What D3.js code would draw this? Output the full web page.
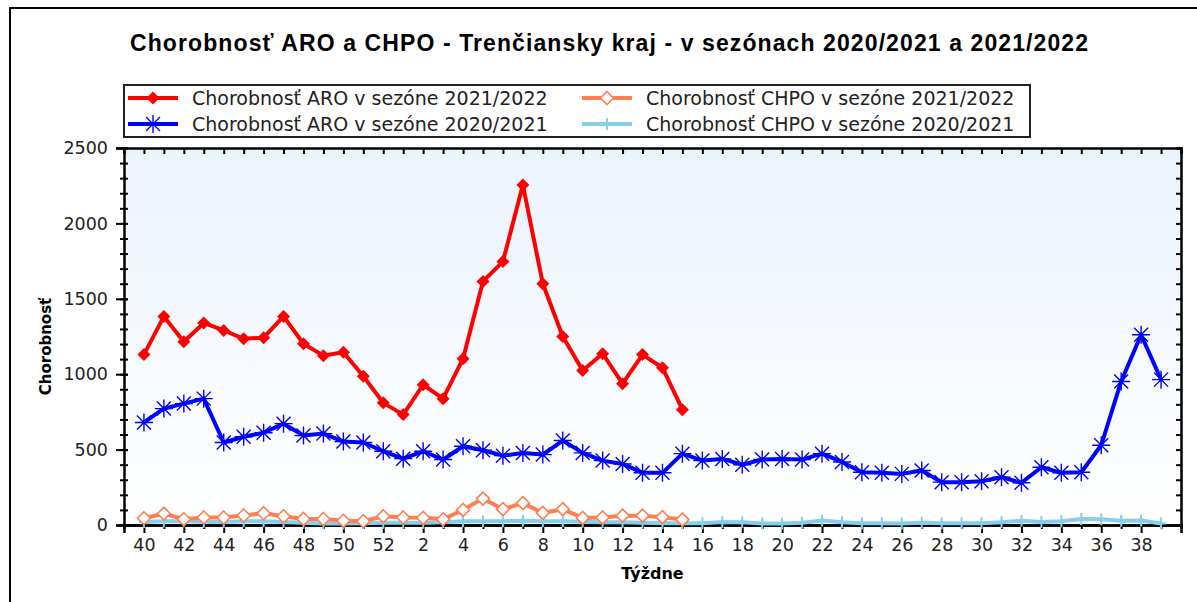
<!DOCTYPE html>
<html>
<head>
<meta charset="utf-8">
<script src="https://cdn.jsdelivr.net/npm/d3@7"></script>
<style>
	body { margin: 0; background: #fff; }
	svg { display: block; }
</style>
</head>
<body>
<svg></svg>
<script>
// weeks on the category axis (season runs from week 40 to week 39)
const weeks = [40, 41, 42, 43, 44, 45, 46, 47, 48, 49, 50, 51, 52,
	1, 2, 3, 4, 5, 6, 7, 8, 9, 10, 11, 12, 13, 14, 15, 16, 17, 18, 19, 20,
	21, 22, 23, 24, 25, 26, 27, 28, 29, 30, 31, 32, 33, 34, 35, 36, 37, 38, 39];

// ARO 2021/2022 (weeks 40..15)
const aro2122 = [1130, 1383, 1215, 1340, 1290, 1235, 1242, 1383, 1202, 1123, 1145, 986, 810,
	732, 930, 838, 1103, 1615, 1747, 2255, 1600, 1250, 1025, 1136, 937, 1130, 1043, 765];

// ARO 2020/2021 (weeks 40..39)
const aro2021 = [680, 772, 805, 838, 547, 585, 612, 672, 593, 606, 553, 547, 489,
	440, 489, 434, 522, 496, 460, 478, 467, 560, 478, 427, 405, 346, 346, 473, 427, 438, 400, 434, 438,
	434, 473, 418, 350, 346, 339, 361, 284, 284, 290, 317, 280, 383, 346, 350, 529, 952, 1262, 964];

// CHPO 2021/2022
const chpo2122 = [45, 75, 38, 50, 50, 63, 78, 58, 40, 40, 28, 25, 58,
	50, 48, 38, 100, 175, 105, 145, 80, 105, 47, 50, 62, 62, 52, 36];

// CHPO 2020/2021
const chpo2021 = [20, 25, 25, 22, 20, 25, 25, 20, 15, 10, 10, 12, 15,
	15, 15, 18, 25, 25, 25, 28, 25, 25, 22, 18, 18, 15, 12, 12, 12, 20, 18, 10, 10,
	15, 30, 18, 12, 12, 10, 15, 12, 12, 12, 18, 28, 20, 25, 40, 38, 28, 30, 10];

const yMajor = [0, 500, 1000, 1500, 2000, 2500];

const size = { w: 1197, h: 602 };
const plot = { l: 124, r: 1181, t: 148, b: 525 };

const svg = d3.select("svg").attr("width", size.w).attr("height", size.h);

const xScale = d3.scaleLinear().domain([-1, 52]).range([plot.l, plot.r]);
const yScale = d3.scaleLinear().domain([0, 2500]).range([plot.b, plot.t]);

// outer frame
svg.append("rect")
	.attr("x", 10).attr("y", 8)
	.attr("width", size.w + 10).attr("height", size.h + 10)
	.attr("fill", "none").attr("stroke", "#000").attr("stroke-width", 2);

// title
svg.append("text")
	.attr("x", 609).attr("y", 51)
	.attr("text-anchor", "middle")
	.attr("font-family", "Liberation Sans, Arial, sans-serif")
	.attr("font-weight", "bold").attr("font-size", 23)
	.attr("textLength", 958)
	.text("Chorobnosť ARO a CHPO - Trenčiansky kraj  - v sezónach 2020/2021 a 2021/2022");

// plot background
const defs = svg.append("defs");
const grad = defs.append("linearGradient").attr("id", "bg").attr("x1", 0).attr("y1", 0).attr("x2", 0).attr("y2", 1);
grad.append("stop").attr("offset", 0).attr("stop-color", "#ebf3fd");
grad.append("stop").attr("offset", 1).attr("stop-color", "#ffffff");

svg.append("rect")
	.attr("x", plot.l).attr("y", plot.t)
	.attr("width", plot.r - plot.l).attr("height", plot.b - plot.t)
	.attr("fill", "url(#bg)");

const tickFont = "DejaVu Sans, Verdana, sans-serif";
const idx = d3.range(weeks.length);

// left axis: major with labels, minor every 100
const leftMinor = svg.append("g")
	.attr("transform", `translate(${plot.l},0)`)
	.call(d3.axisLeft(yScale).tickValues(d3.range(0, 2501, 100)).tickSize(4).tickFormat(""));
leftMinor.selectAll(".tick line").attr("x2", -4).attr("x1", 4).attr("stroke-width", 2);
leftMinor.select(".domain").remove();

const leftAxis = svg.append("g")
	.attr("transform", `translate(${plot.l},0)`)
	.call(d3.axisLeft(yScale).tickValues(yMajor).tickSize(8).tickPadding(8).tickFormat(d3.format("d")));
leftAxis.selectAll(".tick line").attr("x1", 4).attr("stroke-width", 2);
leftAxis.selectAll("text").attr("font-family", tickFont).attr("font-size", 17.5).attr("fill", "#222");

// right axis ticks (inward)
const rightAxis = svg.append("g")
	.attr("transform", `translate(${plot.r},0)`)
	.call(d3.axisLeft(yScale).tickValues(d3.range(0, 2501, 100)).tickSize(5).tickFormat(""));
rightAxis.selectAll(".tick line").attr("stroke-width", 2);

// top axis ticks (inward, every week)
const topAxis = svg.append("g")
	.attr("transform", `translate(0,${plot.t})`)
	.call(d3.axisBottom(xScale).tickValues(idx).tickSize(6).tickFormat(""));
topAxis.selectAll(".tick line").attr("stroke-width", 2);

// bottom axis: labels every second week
const bottomMinor = svg.append("g")
	.attr("transform", `translate(0,${plot.b})`)
	.call(d3.axisBottom(xScale).tickValues(idx.filter((i) => i % 2 === 1)).tickSize(4).tickFormat(""));
bottomMinor.selectAll(".tick line").attr("stroke-width", 2);

const bottomAxis = svg.append("g")
	.attr("transform", `translate(0,${plot.b})`)
	.call(d3.axisBottom(xScale)
		.tickValues(idx.filter((i) => i % 2 === 0))
		.tickSize(8).tickPadding(6)
		.tickFormat((i) => weeks[i]));
bottomAxis.selectAll(".tick line").attr("stroke-width", 2);
bottomAxis.selectAll("text").attr("font-family", tickFont).attr("font-size", 17.5).attr("fill", "#222");

svg.selectAll(".domain").attr("stroke-width", 2.5);

// axis titles
svg.append("text")
	.attr("x", (plot.l + plot.r) / 2).attr("y", 579)
	.attr("text-anchor", "middle")
	.attr("font-family", tickFont).attr("font-weight", "bold").attr("font-size", 16)
	.text("Týždne");

svg.append("text")
	.attr("transform", `translate(51,${(plot.t + plot.b) / 2 + 10}) rotate(-90)`)
	.attr("text-anchor", "middle")
	.attr("font-family", tickFont).attr("font-weight", "bold").attr("font-size", 15)
	.text("Chorobnosť");

// markers
function diamond(r) {
	return `M0,${-r}L${r},0L0,${r}L${-r},0Z`;
}
const starPath = "M-7,-7L7,7M7,-7L-7,7M0,-9L0,9M-9,0L9,0";
const plusPath = "M0,-6L0,6M-5,0L5,0";

const series = [
	{ name: "Chorobnosť CHPO v sezóne 2020/2021", values: chpo2021, color: "#87ceeb", marker: "plus" },
	{ name: "Chorobnosť CHPO v sezóne 2021/2022", values: chpo2122, color: "#ff7f50", marker: "open" },
	{ name: "Chorobnosť ARO v sezóne 2020/2021", values: aro2021, color: "#0000ff", marker: "star" },
	{ name: "Chorobnosť ARO v sezóne 2021/2022", values: aro2122, color: "#ff0000", marker: "diamond" }
];

const line = d3.line().x((d, i) => xScale(i)).y((d) => yScale(d));

function drawMarker(g, type, color) {
	if (type === "diamond") {
		g.append("path").attr("d", diamond(6.5)).attr("fill", color);
	} else if (type === "open") {
		g.append("path").attr("d", diamond(6.5)).attr("fill", "#fff").attr("stroke", color).attr("stroke-width", 1.6);
	} else if (type === "star") {
		g.append("path").attr("d", starPath).attr("stroke", color).attr("stroke-width", 1.4).attr("fill", "none");
	} else {
		g.append("path").attr("d", plusPath).attr("stroke", color).attr("stroke-width", 2).attr("fill", "none");
	}
}

series.forEach((s) => {
	const g = svg.append("g");
	g.append("path")
		.datum(s.values)
		.attr("d", line)
		.attr("fill", "none")
		.attr("stroke", s.color)
		.attr("stroke-width", 4)
		.attr("stroke-linejoin", "round");
	g.selectAll("g.pt")
		.data(s.values)
		.join("g")
		.classed("pt", true)
		.attr("transform", (d, i) => `translate(${xScale(i)},${yScale(d)})`)
		.each(function () {
			drawMarker(d3.select(this), s.marker, s.color);
		});
});

// legend
const legendG = svg.append("g");
legendG.append("rect")
	.attr("x", 124).attr("y", 85).attr("width", 906).attr("height", 52)
	.attr("fill", "#fff").attr("stroke", "#222").attr("stroke-width", 2);

const legendItems = [series[3], series[1], series[2], series[0]];
legendItems.forEach((s, i) => {
	const col = i % 2;
	const row = Math.floor(i / 2);
	const lx = col === 0 ? 128 : 582;
	const ly = 98 + row * 26;
	legendG.append("line")
		.attr("x1", lx).attr("x2", lx + 50)
		.attr("y1", ly).attr("y2", ly)
		.attr("stroke", s.color).attr("stroke-width", 4);
	const m = legendG.append("g").attr("transform", `translate(${lx + 25},${ly})`);
	drawMarker(m, s.marker, s.color);
	legendG.append("text")
		.attr("x", lx + 64).attr("y", ly + 7)
		.attr("font-family", tickFont).attr("font-size", 19)
		.attr("fill", "#222")
		.text(s.name);
});
</script>
</body>
</html>
